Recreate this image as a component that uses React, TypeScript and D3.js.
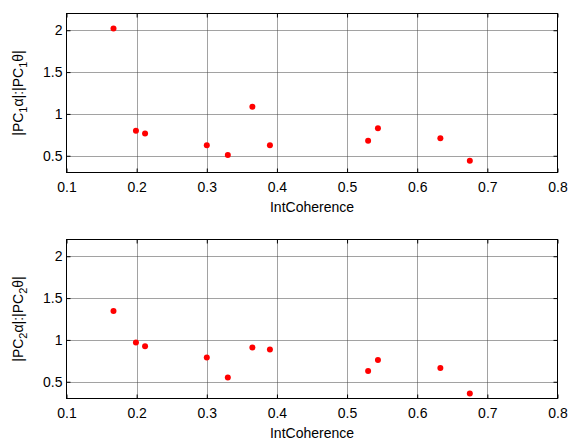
import { useEffect, useRef } from "react";
import * as d3 from "d3";

const coherence = [0.167, 0.199, 0.212, 0.300, 0.330, 0.365, 0.390, 0.530, 0.544, 0.633, 0.675];
const ratioPC1 = [2.02, 0.80, 0.765, 0.625, 0.51, 1.085, 0.625, 0.68, 0.83, 0.71, 0.44];
const ratioPC2 = [1.345, 0.97, 0.925, 0.79, 0.55, 0.91, 0.885, 0.63, 0.76, 0.665, 0.36];

const xTicks = [0.1, 0.2, 0.3, 0.4, 0.5, 0.6, 0.7, 0.8];
const yTicks = [0.5, 1, 1.5, 2];
const xDomain = [0.1, 0.8];
const yDomain = [0.3, 2.2];

const panels = [
  { idx: "1", values: ratioPC1, top: 13.5, bottom: 172.5 },
  { idx: "2", values: ratioPC2, top: 239.5, bottom: 398.5 },
];

const left = 66.5;
const right = 557.5;
const font = "'Liberation Sans', Arial, sans-serif";

export default function App() {
  const ref = useRef<SVGSVGElement>(null);

  useEffect(() => {
    const svg = d3.select(ref.current);
    svg.selectAll("*").remove();

    panels.forEach((p) => {
      const x = d3.scaleLinear().domain(xDomain).range([left, right]);
      const y = d3.scaleLinear().domain(yDomain).range([p.bottom, p.top]);
      const g = svg.append("g");

      // dotted grid
      g.selectAll(".gx")
        .data(xTicks.slice(1, -1))
        .join("line")
        .attr("x1", (d) => Math.round(x(d)) + 0.5)
        .attr("x2", (d) => Math.round(x(d)) + 0.5)
        .attr("y1", p.top)
        .attr("y2", p.bottom)
        .attr("stroke", "#444")
        .attr("stroke-dasharray", "1,1");
      g.selectAll(".gy")
        .data(yTicks)
        .join("line")
        .attr("class", "gy")
        .attr("y1", (d) => Math.round(y(d)) + 0.5)
        .attr("y2", (d) => Math.round(y(d)) + 0.5)
        .attr("x1", left)
        .attr("x2", right)
        .attr("stroke", "#444")
        .attr("stroke-dasharray", "1,1");

      const style = (a: d3.Selection<SVGGElement, unknown, null, undefined>) => {
        a.select(".domain").remove();
        a.selectAll("line").attr("stroke", "#000");
        a.selectAll("text").attr("fill", "#000").style("font-family", font).style("font-size", "14px");
      };

      g.append("g")
        .attr("transform", `translate(0,${p.bottom})`)
        .call(d3.axisBottom(x).tickValues(xTicks).tickSizeInner(-4).tickSizeOuter(0).tickPadding(10).tickFormat(d3.format(".1f")))
        .call(style);
      g.append("g")
        .attr("transform", `translate(0,${p.top})`)
        .call(d3.axisTop(x).tickValues(xTicks).tickSizeInner(-4).tickSizeOuter(0).tickFormat(() => ""))
        .call(style);
      g.append("g")
        .attr("transform", `translate(${left},0)`)
        .call(d3.axisLeft(y).tickValues(yTicks).tickSizeInner(-4).tickSizeOuter(0).tickPadding(4).tickFormat((d) => String(d)))
        .call(style);
      g.append("g")
        .attr("transform", `translate(${right},0)`)
        .call(d3.axisRight(y).tickValues(yTicks).tickSizeInner(-4).tickSizeOuter(0).tickFormat(() => ""))
        .call(style);

      g.append("rect")
        .attr("x", left)
        .attr("y", p.top)
        .attr("width", right - left)
        .attr("height", p.bottom - p.top)
        .attr("fill", "none")
        .attr("stroke", "#000");

      g.selectAll("circle")
        .data(p.values)
        .join("circle")
        .attr("cx", (_, i) => x(coherence[i]))
        .attr("cy", (d) => y(d))
        .attr("r", 3)
        .attr("fill", "#ff0000");

      g.append("text")
        .attr("x", (left + right) / 2)
        .attr("y", p.bottom + 39)
        .attr("text-anchor", "middle")
        .style("font-family", font)
        .style("font-size", "14px")
        .text("IntCoherence");

      const yl = g.append("text")
        .attr("transform", `translate(23,${(p.top + p.bottom) / 2}) rotate(-90)`)
        .attr("text-anchor", "middle")
        .style("font-family", font)
        .style("font-size", "14px");
      yl.append("tspan").text("|PC");
      yl.append("tspan").attr("dy", 4).style("font-size", "11px").text(p.idx);
      yl.append("tspan").attr("dy", -4).text("\u03b1|:|PC");
      yl.append("tspan").attr("dy", 4).style("font-size", "11px").text(p.idx);
      yl.append("tspan").attr("dy", -4).text("\u03b8|");
    });
  }, []);

  return (
    <svg
      ref={ref}
      width={569}
      height={439}
      style={{ position: "absolute", left: 0, top: 0, background: "#fff" }}
    />
  );
}
